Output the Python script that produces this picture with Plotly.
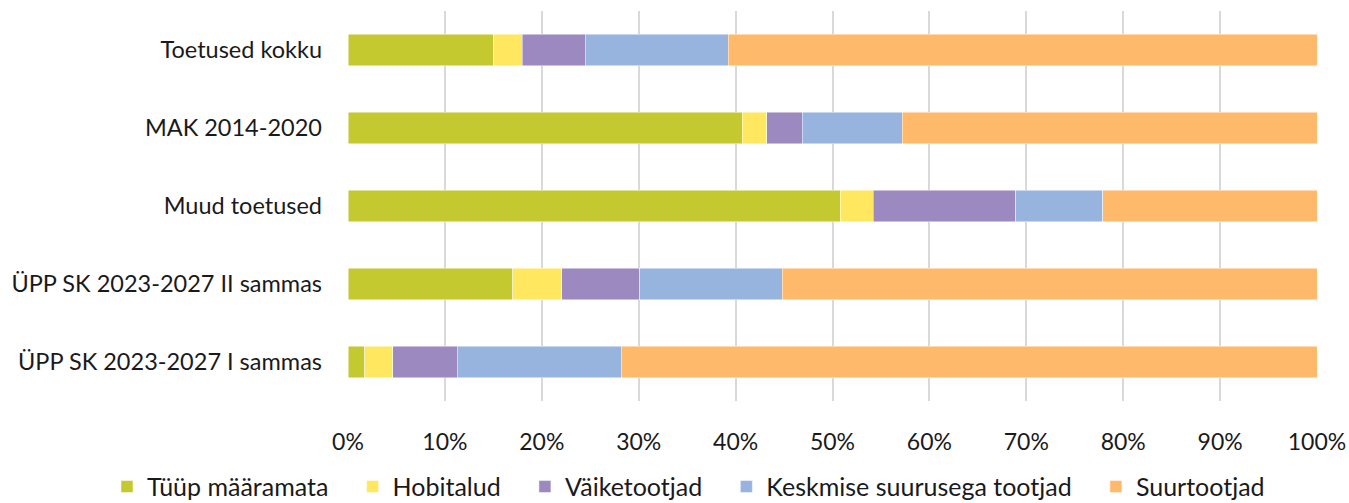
import plotly.graph_objects as go

# kategooriad ülevalt alla
kategooriad = [
    "Toetused kokku",
    "MAK 2014-2020",
    "Muud toetused",
    "ÜPP SK 2023-2027 II sammas",
    "ÜPP SK 2023-2027 I sammas",
]

tyyp_maaramata = [15.0, 40.7, 50.8, 17.0, 1.75]
hobitalud = [3.0, 2.5, 3.4, 5.05, 2.85]
vaiketootjad = [6.5, 3.7, 14.7, 8.05, 6.65]
keskmised = [14.75, 10.3, 9.0, 14.7, 16.95]
suurtootjad = [60.75, 42.8, 22.1, 55.2, 71.8]

protsendid = [0, 10, 20, 30, 40, 50, 60, 70, 80, 90, 100]

seeriad = [
    ("Tüüp määramata", tyyp_maaramata, "#C5C930"),
    ("Hobitalud", hobitalud, "#FFE860"),
    ("Väiketootjad", vaiketootjad, "#9C89BF"),
    ("Keskmise suurusega tootjad", keskmised, "#97B4DE"),
    ("Suurtootjad", suurtootjad, "#FFB96A"),
]

vahe = "\u00a0" * 3  # legendi kirjete vahe suuremaks

fig = go.Figure()
for i, (nimi, vaartused, varv) in enumerate(seeriad):
    fig.add_trace(go.Bar(
        y=kategooriad,
        x=vaartused,
        name=nimi + (vahe if i < len(seeriad) - 1 else ""),
        orientation="h",
        marker=dict(color=varv, line=dict(color="rgba(255,255,255,0.6)", width=0.8)),
    ))

fig.update_layout(
    barmode="stack",
    barnorm="percent",
    bargap=0.6,
    width=1349,
    height=503,
    margin=dict(l=348, r=32, t=11, b=102, autoexpand=False),
    plot_bgcolor="white",
    paper_bgcolor="white",
    font=dict(family="Lato", size=23.5, color="#1a1a1a"),
    legend=dict(
        orientation="h",
        traceorder="normal",
        x=-0.2487, xanchor="left",
        y=-0.22, yanchor="middle",
        bgcolor="rgba(0,0,0,0)",
        font=dict(size=25),
        itemwidth=30,
    ),
)
fig.update_xaxes(
    range=[0, 100],
    tickvals=protsendid,
    ticktext=[f"{p}%" for p in protsendid],
    tickfont=dict(size=23),
    showgrid=True, gridcolor="#D9D9D9", gridwidth=1.5,
    zeroline=False, showline=False,
    ticklabelstandoff=25,
    ticklabeloverflow="allow",
)
fig.update_yaxes(
    autorange="reversed",
    showgrid=False, showline=False,
    ticklabelstandoff=25,
)

# brauseri vaikimisi body veeris ära
fig.write_html(
    "out.html",
    config={"displayModeBar": False},
    post_script="document.body.style.margin='0';",
)
